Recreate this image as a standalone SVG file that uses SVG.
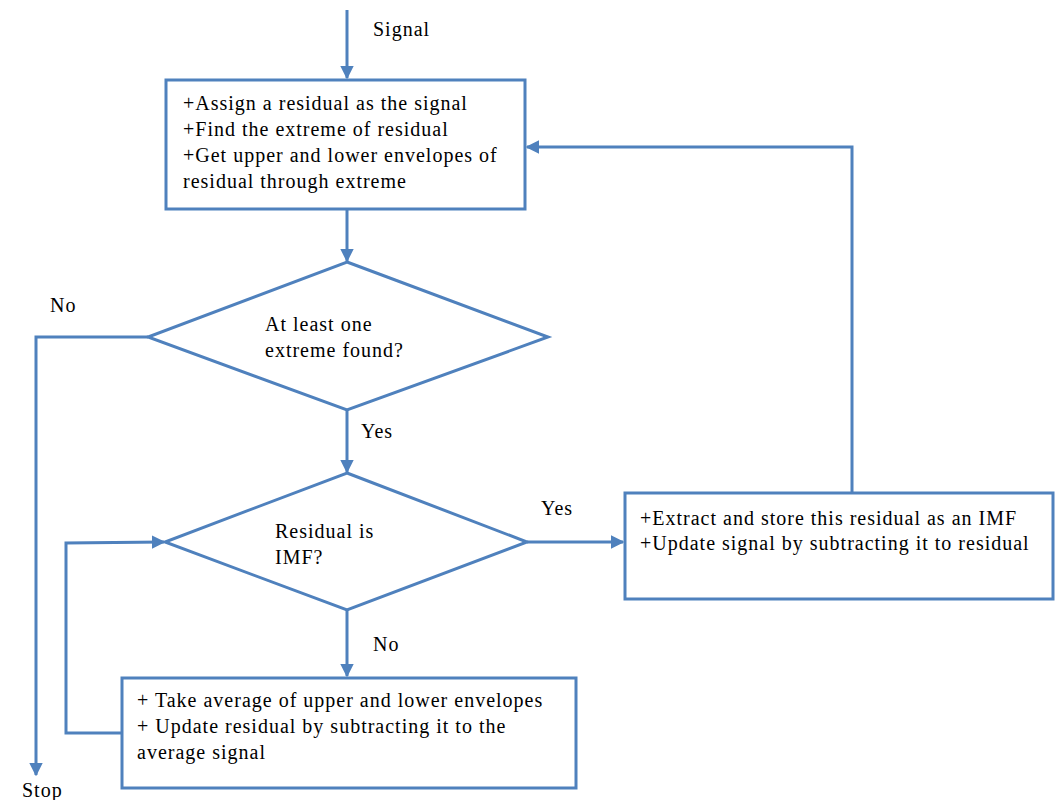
<svg xmlns="http://www.w3.org/2000/svg" width="1055" height="800" viewBox="0 0 1055 800">
<defs>
<style>
.box{fill:#fff;stroke:#4F81BD;stroke-width:3}
.ln{fill:none;stroke:#4F81BD;stroke-width:3}
text{font-family:"Liberation Serif","Times New Roman",serif;font-size:20px;letter-spacing:1px;fill:#000}
</style>
<marker id="ah" viewBox="0 0 10 10" refX="9" refY="5" markerWidth="4.5" markerHeight="4.5" orient="auto" markerUnits="strokeWidth">
<path d="M0,0 L10,5 L0,10 z" fill="#4F81BD"/>
</marker>
</defs>
<rect width="1055" height="800" fill="#fff"/>
<g id="connectors">
<line class="ln" x1="347" y1="10" x2="347" y2="78" marker-end="url(#ah)"/>
<line class="ln" x1="347" y1="209" x2="347" y2="261" marker-end="url(#ah)"/>
<polyline class="ln" points="148,337 36,337 36,775" marker-end="url(#ah)"/>
<line class="ln" x1="347" y1="410" x2="347" y2="472" marker-end="url(#ah)"/>
<line class="ln" x1="527" y1="542" x2="623" y2="542" marker-end="url(#ah)"/>
<polyline class="ln" points="852,492 852,147 527,147" marker-end="url(#ah)"/>
<line class="ln" x1="347" y1="610" x2="347" y2="676" marker-end="url(#ah)"/>
<polyline class="ln" points="122,733 66,733 66,543 164,542" marker-end="url(#ah)"/>
<text x="373" y="36">Signal</text>
<text x="50" y="312">No</text>
<text x="22" y="797">Stop</text>
<text x="361" y="438">Yes</text>
<text x="541" y="515">Yes</text>
<text x="373" y="651">No</text>
</g>
<g id="init">
<rect class="box" x="166" y="80" width="359" height="129"/>
<text x="183" y="110">+Assign a residual as the signal</text>
<text x="183" y="136">+Find the extreme of residual</text>
<text x="183" y="162">+Get upper and lower envelopes of</text>
<text x="183" y="188">residual through extreme</text>
</g>
<g id="dec1">
<polygon class="box" points="347,262 548,337 347,410 148,337"/>
<text x="265" y="331">At least one</text>
<text x="265" y="357">extreme found?</text>
</g>
<g id="dec2">
<polygon class="box" points="347,473 527,542 347,610 165,542"/>
<text x="275" y="538">Residual is</text>
<text x="275" y="564">IMF?</text>
</g>
<g id="imf">
<rect class="box" x="625" y="493" width="428" height="106"/>
<text x="640" y="525">+Extract and store this residual as an IMF</text>
<text x="640" y="550">+Update signal by subtracting it to residual</text>
</g>
<g id="avg">
<rect class="box" x="122" y="678" width="454" height="110"/>
<text x="137" y="707">+ Take average of upper and lower envelopes</text>
<text x="137" y="733">+ Update residual by subtracting it to the</text>
<text x="137" y="759">average signal</text>
</g>
</svg>
